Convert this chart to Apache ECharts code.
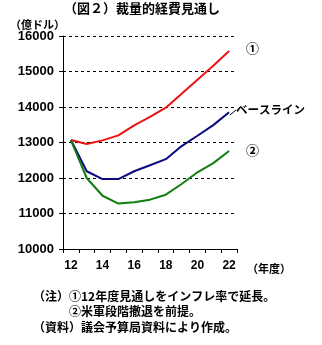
<!DOCTYPE html>
<html><head><meta charset="utf-8">
<script src="https://cdn.jsdelivr.net/npm/echarts@6/dist/echarts.min.js"></script>
<style>html,body{margin:0;padding:0;background:#fff}#c{width:322px;height:345px}</style>
</head><body><div id="c"></div>
<script>
const categories = ['12','13','14','15','16','17','18','19','20','21','22'];
const series1 = [13070, 12960, 13060, 13200, 13480, 13720, 13980, 14370, 14770, 15160, 15580];
const baseline = [13070, 12190, 11970, 11970, 12190, 12360, 12530, 12900, 13190, 13490, 13850];
const series2 = [13070, 12000, 11500, 11280, 11320, 11390, 11530, 11830, 12160, 12420, 12760];
const yTicks = [10000, 11000, 12000, 13000, 14000, 15000, 16000];
const titleText = '（図２）裁量的経費見通し';
const unitText = '（億ドル）';
const xUnitText = '（年度）';
const notes = ['（注）①12年度見通しをインフレ率で延長。', '　　　②米軍段階撤退を前提。', '（資料）議会予算局資料により作成。'];
const seriesNames = ['①', 'ベースライン', '②'];

const F = '"Noto Sans CJK JP", sans-serif';
const chart = echarts.init(document.getElementById('c'), null, {renderer: 'canvas'});
const txt = (x, y, t, size, extra) => Object.assign({type: 'text', left: x, top: y, style: {text: t, fill: '#000', font: 'bold ' + size + 'px ' + F}}, extra || {});
chart.setOption({
  animation: false,
  backgroundColor: '#fff',
  grid: {left: 63, right: 85, top: 36, bottom: 96, containLabel: false},
  xAxis: {
    type: 'category', data: categories, boundaryGap: true,
    axisLine: {lineStyle: {color: '#000', width: 1}},
    axisTick: {show: true, length: 4, lineStyle: {color: '#000'}, interval: 0},
    axisLabel: {interval: 1, color: '#000', fontWeight: 'bold', fontSize: 12, fontFamily: 'Liberation Sans', margin: 11},
    splitLine: {show: false}
  },
  yAxis: {
    type: 'value', min: yTicks[0], max: yTicks[yTicks.length - 1], interval: 1000,
    axisLine: {show: true, lineStyle: {color: '#000', width: 1}},
    axisTick: {show: true, inside: false, length: 4, lineStyle: {color: '#000'}},
    axisLabel: {color: '#000', fontWeight: 'bold', fontSize: 13, fontFamily: 'Liberation Sans', margin: 9, formatter: v => String(v)},
    splitLine: {show: true, lineStyle: {color: '#000', type: [3, 3], width: 1}}
  },
  series: [
    {name: seriesNames[0], type: 'line', data: series1, symbol: 'none', lineStyle: {color: '#ee1111', width: 2}, z: 3},
    {name: seriesNames[1], type: 'line', data: baseline, symbol: 'none', lineStyle: {color: '#0a0a80', width: 2}, z: 2},
    {name: seriesNames[2], type: 'line', data: series2, symbol: 'none', lineStyle: {color: '#0e7e0e', width: 2}, z: 4}
  ],
  graphic: [
    txt(64, 2, titleText, 13),
    txt(10, 19, unitText, 11),
    txt(246, 42, seriesNames[0], 13),
    txt(236, 104, seriesNames[1], 11.5),
    txt(246, 144, seriesNames[2], 13),
    {type: 'line', shape: {x1: 230, y1: 115, x2: 236, y2: 110}, style: {stroke: '#000', lineWidth: 1}},
    txt(247, 263, xUnitText, 11),
    txt(33, 290, notes[0], 12),
    txt(33, 305, notes[1], 12),
    txt(33, 321, notes[2], 12)
  ]
});
</script></body></html>
